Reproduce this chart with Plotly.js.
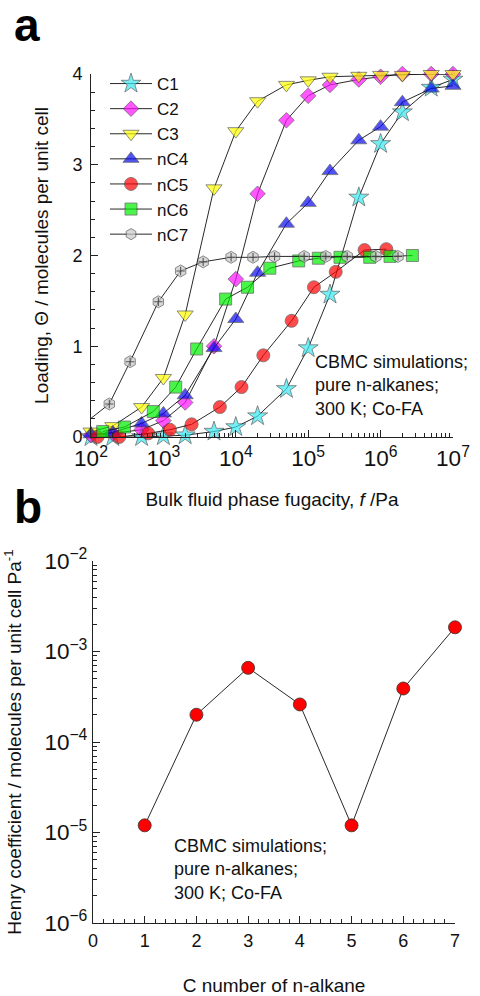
<!DOCTYPE html>
<html>
<head>
<meta charset="utf-8">
<script src="https://cdn.plot.ly/plotly-3.0.1.min.js"></script>
<style>
  html, body { margin: 0; padding: 0; background: #fff; }
  #chart { width: 480px; height: 996px; }
</style>
</head>
<body>
<div id="chart"></div>
<script>
// ---------- Panel a data: loading vs fugacity ----------
const fugC1toC4 = [1e2, 2e2, 5e2, 1e3, 2e3, 5e3, 1e4, 2e4, 5e4, 1e5, 2e5, 5e5, 1e6, 2e6, 5e6, 1e7];
const loadC1  = [0.00, 0.00, 0.00, 0.01, 0.02, 0.06, 0.11, 0.23, 0.53, 0.98, 1.57, 2.64, 3.23, 3.58, 3.85, 3.94];
const loadC2  = [0.02, 0.04, 0.08, 0.18, 0.38, 1.00, 1.74, 2.68, 3.49, 3.76, 3.88, 3.94, 3.97, 4.00, 4.00, 4.00];
const loadC3  = [0.06, 0.12, 0.33, 0.65, 1.35, 2.74, 3.37, 3.70, 3.88, 3.93, 3.97, 3.98, 3.99, 3.99, 4.00, 4.00];
const loadnC4 = [0.03, 0.05, 0.15, 0.26, 0.46, 0.98, 1.30, 1.81, 2.35, 2.58, 2.93, 3.27, 3.42, 3.69, 3.84, 3.87];

const fugnC5  = [123, 245, 617, 1230, 2455, 6030, 12000, 24000, 59000, 120000, 240000, 600000, 1200000];
const loadnC5 = [0.00, 0.00, 0.04, 0.08, 0.14, 0.33, 0.55, 0.90, 1.28, 1.65, 1.82, 2.06, 2.07];

const fugnC6  = [145, 290, 725, 1480, 2880, 7240, 14500, 29500, 74000, 138000, 275000, 708000, 1350000, 2750000];
const loadnC6 = [0.06, 0.11, 0.28, 0.55, 0.97, 1.52, 1.65, 1.86, 1.94, 1.97, 1.98, 1.98, 1.99, 2.00];

const fugnC7  = [86, 179, 347, 852, 1730, 3540, 8610, 17300, 34300, 88000, 175000, 346000, 860000, 1740000];
const loadnC7 = [0.165, 0.364, 0.83, 1.49, 1.83, 1.93, 1.98, 1.98, 1.99, 1.99, 1.99, 1.99, 1.99, 1.99];

const seriesNames = ["C1", "C2", "C3", "nC4", "nC5", "nC6", "nC7"];

// ---------- Panel b data: Henry coefficients ----------
const carbonNumber = [1, 2, 3, 4, 5, 6, 7];
const henryCoeff   = [1.2e-5, 2.0e-4, 6.6e-4, 2.6e-4, 1.2e-5, 3.9e-4, 1.85e-3];

const annotText = "CBMC simulations;<br>pure n-alkanes;<br>300 K; Co-FA";

// ---------- styling ----------
const FONT = "Arial, 'Liberation Sans', Helvetica, sans-serif";
const INK = "#111111";
const AXC = "#222222";
const W = 480, H = 996;
const px = v => v / W;
const py = v => 1 - v / H;

const XMIN = 1e2;
function mk(x, y, name, symbol, color, size) {
  return {
    type: "scatter", mode: "lines+markers", x: x, y: y, name: name,
    xaxis: "x", yaxis: "y", cliponaxis: false,
    line: { color: "#111", width: 0.9 },
    marker: {
      symbol: symbol, color: color,
      size: x.map(v => v < XMIN ? 0 : size),
      line: { color: "#333", width: 0.8 }
    }
  };
}

const traces = [
  mk(fugC1toC4, loadC1,  seriesNames[0], "star",          "#38E8F0", 15),
  mk(fugC1toC4, loadC2,  seriesNames[1], "diamond",       "#FF10FF", 12),
  mk(fugC1toC4, loadC3,  seriesNames[2], "triangle-down", "#FFFF00", 14),
  mk(fugC1toC4, loadnC4, seriesNames[3], "triangle-up",   "#0808F0", 14),
  mk(fugnC5,    loadnC5, seriesNames[4], "circle",        "#FF0000", 13),
  mk(fugnC6,    loadnC6, seriesNames[5], "square",        "#00F000", 12),
  mk(fugnC7,    loadnC7, seriesNames[6], "hexagon",       "#C8C8C8", 12),
  {
    type: "scatter", mode: "markers", x: fugnC7, y: loadnC7, showlegend: false,
    xaxis: "x", yaxis: "y", cliponaxis: false, hoverinfo: "skip",
    marker: { symbol: "cross-thin", size: fugnC7.map(v => v < XMIN ? 0 : 6), color: "#222",
              line: { color: "#222", width: 1.1 } }
  },
  {
    type: "scatter", mode: "lines+markers", x: carbonNumber, y: henryCoeff,
    xaxis: "x2", yaxis: "y2", showlegend: false, cliponaxis: false,
    line: { color: "#111", width: 0.9 },
    marker: { symbol: "circle", size: 13, color: "#FF0000", line: { color: "#333", width: 0.8 } }
  }
];

const axBase = {
  showline: true, linecolor: AXC, linewidth: 1, mirror: false,
  showgrid: false, zeroline: false,
  ticks: "inside", ticklen: 7, tickwidth: 1, tickcolor: AXC,
  tickfont: { family: FONT, size: 18, color: INK },
  fixedrange: true
};

const layout = {
  width: W, height: H,
  margin: { l: 0, r: 0, t: 0, b: 0, pad: 0 },
  paper_bgcolor: "#fff", plot_bgcolor: "rgba(0,0,0,0)",
  font: { family: FONT, color: INK },
  showlegend: true,
  legend: {
    x: px(105), y: py(66), xanchor: "left", yanchor: "top",
    bgcolor: "rgba(0,0,0,0)", borderwidth: 0,
    font: { family: FONT, size: 17, color: INK },
    itemwidth: 42, tracegroupgap: 0
  },
  xaxis: Object.assign({}, axBase, {
    type: "log", range: [2, 7], domain: [px(91), px(453)], anchor: "y",
    dtick: 1, exponentformat: "power", ticklabelstandoff: 2,
    minor: { ticks: "inside", ticklen: 4, dtick: "D1", tickcolor: AXC, showgrid: false },
    title: { text: "Bulk fluid phase fugacity, <i>f</i> /Pa", font: { family: FONT, size: 19, color: INK }, standoff: 22 }
  }),
  yaxis: Object.assign({}, axBase, {
    range: [0, 4], domain: [py(437), py(74)], anchor: "x",
    dtick: 1, ticklabelstandoff: 4,
    minor: { ticks: "inside", ticklen: 4, dtick: 0.2, tickcolor: AXC, showgrid: false },
    title: { text: "Loading, Θ / molecules per unit cell", font: { family: FONT, size: 19, color: INK }, standoff: 18 }
  }),
  xaxis2: Object.assign({}, axBase, {
    range: [0, 7], domain: [px(93), px(455)], anchor: "y2",
    dtick: 1, ticklabelstandoff: 1,
    minor: { ticks: "inside", ticklen: 4, dtick: 0.2, tickcolor: AXC, showgrid: false },
    title: { text: "C number of n-alkane", font: { family: FONT, size: 19, color: INK }, standoff: 31 }
  }),
  yaxis2: Object.assign({}, axBase, {
    type: "log", range: [-6, -2], domain: [py(923), py(561)], anchor: "x2",
    dtick: 1, exponentformat: "power", ticklabelstandoff: 1,
    minor: { ticks: "inside", ticklen: 4, dtick: "D1", tickcolor: AXC, showgrid: false },
    title: { text: "Henry coefficient / molecules per unit cell Pa<sup>-1</sup>", font: { family: FONT, size: 19, color: INK }, standoff: 17 }
  }),
  annotations: [
    { xref: "paper", yref: "paper", x: px(12), y: py(25), xanchor: "left", yanchor: "middle",
      text: "<b>a</b>", showarrow: false, font: { family: FONT, size: 46, color: "#000" } },
    { xref: "paper", yref: "paper", x: px(12), y: py(507), xanchor: "left", yanchor: "middle",
      text: "<b>b</b>", showarrow: false, font: { family: FONT, size: 46, color: "#000" } },
    { xref: "paper", yref: "paper", x: px(313), y: py(350), xanchor: "left", yanchor: "top", align: "left",
      text: annotText, showarrow: false, font: { family: FONT, size: 18, color: INK } },
    { xref: "paper", yref: "paper", x: px(172), y: py(834), xanchor: "left", yanchor: "top", align: "left",
      text: annotText, showarrow: false, font: { family: FONT, size: 18, color: INK } }
  ]
};

Plotly.newPlot("chart", traces, layout, { staticPlot: true, displayModeBar: false });
</script>
</body>
</html>
